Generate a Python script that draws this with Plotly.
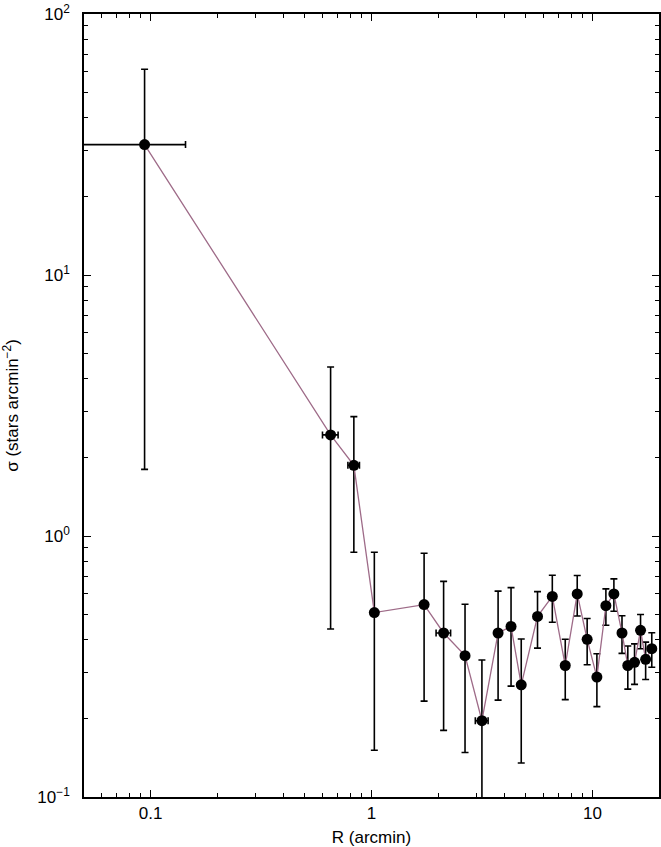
import plotly.graph_objects as go
import math

# Data
R_arcmin = [0.094, 0.653, 0.832, 1.03, 1.73, 2.12, 2.65, 3.16, 3.74, 4.28, 4.76,
            5.64, 6.58, 7.53, 8.53, 9.46, 10.47, 11.5, 12.5, 13.6, 14.45, 15.5,
            16.5, 17.4, 18.55]
sigma = [31.6, 2.44, 1.866, 0.509, 0.546, 0.425, 0.348, 0.196, 0.425, 0.450, 0.269,
         0.492, 0.587, 0.319, 0.600, 0.402, 0.288, 0.541, 0.600, 0.425, 0.319, 0.328,
         0.435, 0.337, 0.370]
sigma_err = [29.8, 2.0, 1.0, 0.358, 0.313, 0.245, 0.20, 0.139, 0.19, 0.184, 0.134,
             0.12, 0.12, 0.083, 0.106, 0.081, 0.066, 0.086, 0.085, 0.07, 0.06, 0.058,
             0.065, 0.055, 0.056]
R_err = [0.05, 0.053, 0.05, 0, 0, 0.16, 0, 0.21, 0, 0, 0,
         0, 0, 0, 0, 0, 0, 0, 0, 0, 0, 0,
         0, 0, 0]

x_ticks = [0.1, 1, 10]
x_ticklabels = ["0.1", "1", "10"]
y_ticks = [0.1, 1, 10, 100]
y_ticklabels = ["10<sup>−1</sup>", "10<sup>0</sup>", "10<sup>1</sup>", "10<sup>2</sup>"]

x_minor = [0.06, 0.07, 0.08, 0.09] + [m / 10 for m in range(2, 10)] + list(range(2, 10)) + [20]
y_minor = [m / 10 for m in range(2, 10)] + list(range(2, 10)) + [m * 10 for m in range(2, 10)]

FONT = "Liberation Sans, Arial, Helvetica, sans-serif"

fig = go.Figure()
fig.add_trace(go.Scatter(
    x=R_arcmin, y=sigma,
    mode="lines+markers",
    line=dict(color="#9e6b88", width=1.3),
    marker=dict(color="black", size=11),
    error_y=dict(type="data", array=sigma_err, visible=True,
                 color="black", thickness=1.6, width=3.5),
    error_x=dict(type="data", array=R_err, visible=True,
                 color="black", thickness=1.6, width=3.5),
    showlegend=False,
))

axis_common = dict(
    showgrid=False, zeroline=False,
    showline=True, linecolor="black", linewidth=1.6,
    mirror="ticks",
    ticks="inside", ticklen=7, tickwidth=1.3, tickcolor="black",
    tickfont=dict(family=FONT, size=17, color="black"),
    ticklabeloverflow="allow",
)

fig.update_xaxes(
    type="log",
    range=[math.log10(0.05), math.log10(20)],
    tickvals=x_ticks, ticktext=x_ticklabels,
    minor=dict(tickvals=x_minor, ticks="inside", ticklen=4, tickwidth=1.3,
               tickcolor="black", showgrid=False),
    title=dict(text="R (arcmin)", font=dict(family=FONT, size=17, color="black"), standoff=12),
    **axis_common,
)
fig.update_yaxes(
    type="log",
    range=[-1, 2],
    tickvals=y_ticks, ticktext=y_ticklabels,
    minor=dict(tickvals=y_minor, ticks="inside", ticklen=4, tickwidth=1.3,
               tickcolor="black", showgrid=False),
    title=dict(text="σ (stars arcmin<sup>−2</sup>)", font=dict(family=FONT, size=17, color="black"), standoff=14),
    ticklabelstandoff=9,
    **axis_common,
)

fig.update_layout(
    width=661, height=847,
    margin=dict(l=84, r=2, t=14, b=50, autoexpand=False),
    paper_bgcolor="white", plot_bgcolor="white",
    font=dict(family=FONT, size=17, color="black"),
)

# remove the default 8px page margin so the figure fills the window exactly
fig.write_html(
    "out.html",
    config={"displayModeBar": False},
    post_script="document.body.style.margin='0';document.body.style.overflow='hidden';",
)
